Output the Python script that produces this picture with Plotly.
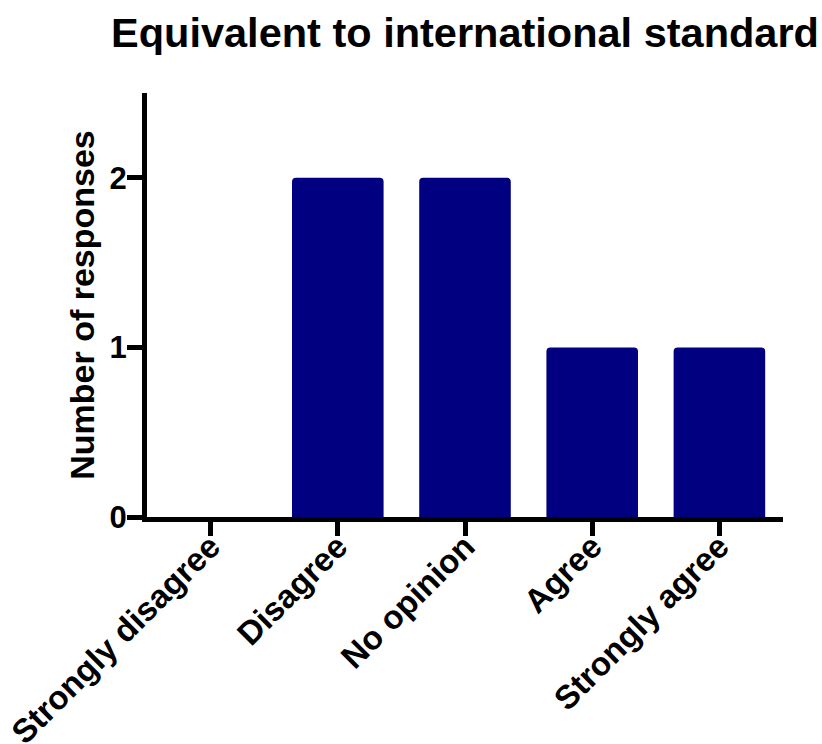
import plotly.graph_objects as go

# Survey responses: "Equivalent to international standard"
categories = ["Strongly disagree", "Disagree", "No opinion", "Agree", "Strongly agree"]
responses = [0, 2, 2, 1, 1]
y_ticks = [0, 1, 2]

FONT = "Liberation Sans, Arial, sans-serif"
NAVY = "#000080"

fig = go.Figure(
    go.Bar(
        x=categories,
        y=responses,
        width=0.72,
        marker=dict(color=NAVY, line=dict(width=0), cornerradius=4),
    )
)

fig.update_layout(
    width=822,
    height=744,
    margin=dict(l=147, r=39, t=93, b=227),
    paper_bgcolor="white",
    plot_bgcolor="white",
    showlegend=False,
    font=dict(family=FONT, color="black"),
    title=dict(
        text="<b>Equivalent to international standard</b>",
        font=dict(family=FONT, size=41.5, color="black"),
        x=0.5,
        xref="paper",
        xanchor="center",
        y=1 - 32 / 744,
        yref="container",
        yanchor="middle",
    ),
)

fig.update_xaxes(
    range=[-0.5, 4.5],
    showgrid=False,
    zeroline=False,
    showline=True,
    linecolor="black",
    linewidth=5,
    ticks="outside",
    ticklen=14,
    tickwidth=5,
    tickcolor="black",
    tickangle=-45,
    tickfont=dict(family=FONT, size=33, color="black"),
    tickprefix="<b>",
    ticksuffix="</b>",
    ticklabelstandoff=-22,
    automargin=False,
)

fig.update_yaxes(
    range=[0, 2.5],
    tickvals=y_ticks,
    ticktext=[f"<b>{v}</b>" for v in y_ticks],
    showgrid=False,
    zeroline=False,
    showline=True,
    linecolor="black",
    linewidth=5,
    ticks="outside",
    ticklen=15,
    tickwidth=5,
    tickcolor="black",
    tickfont=dict(family=FONT, size=31, color="black"),
    ticklabelstandoff=-6,
    title=dict(
        text="<b>Number of responses</b>",
        font=dict(family=FONT, size=34, color="black"),
        standoff=6,
    ),
    automargin=False,
)

fig.write_html("out.html")
